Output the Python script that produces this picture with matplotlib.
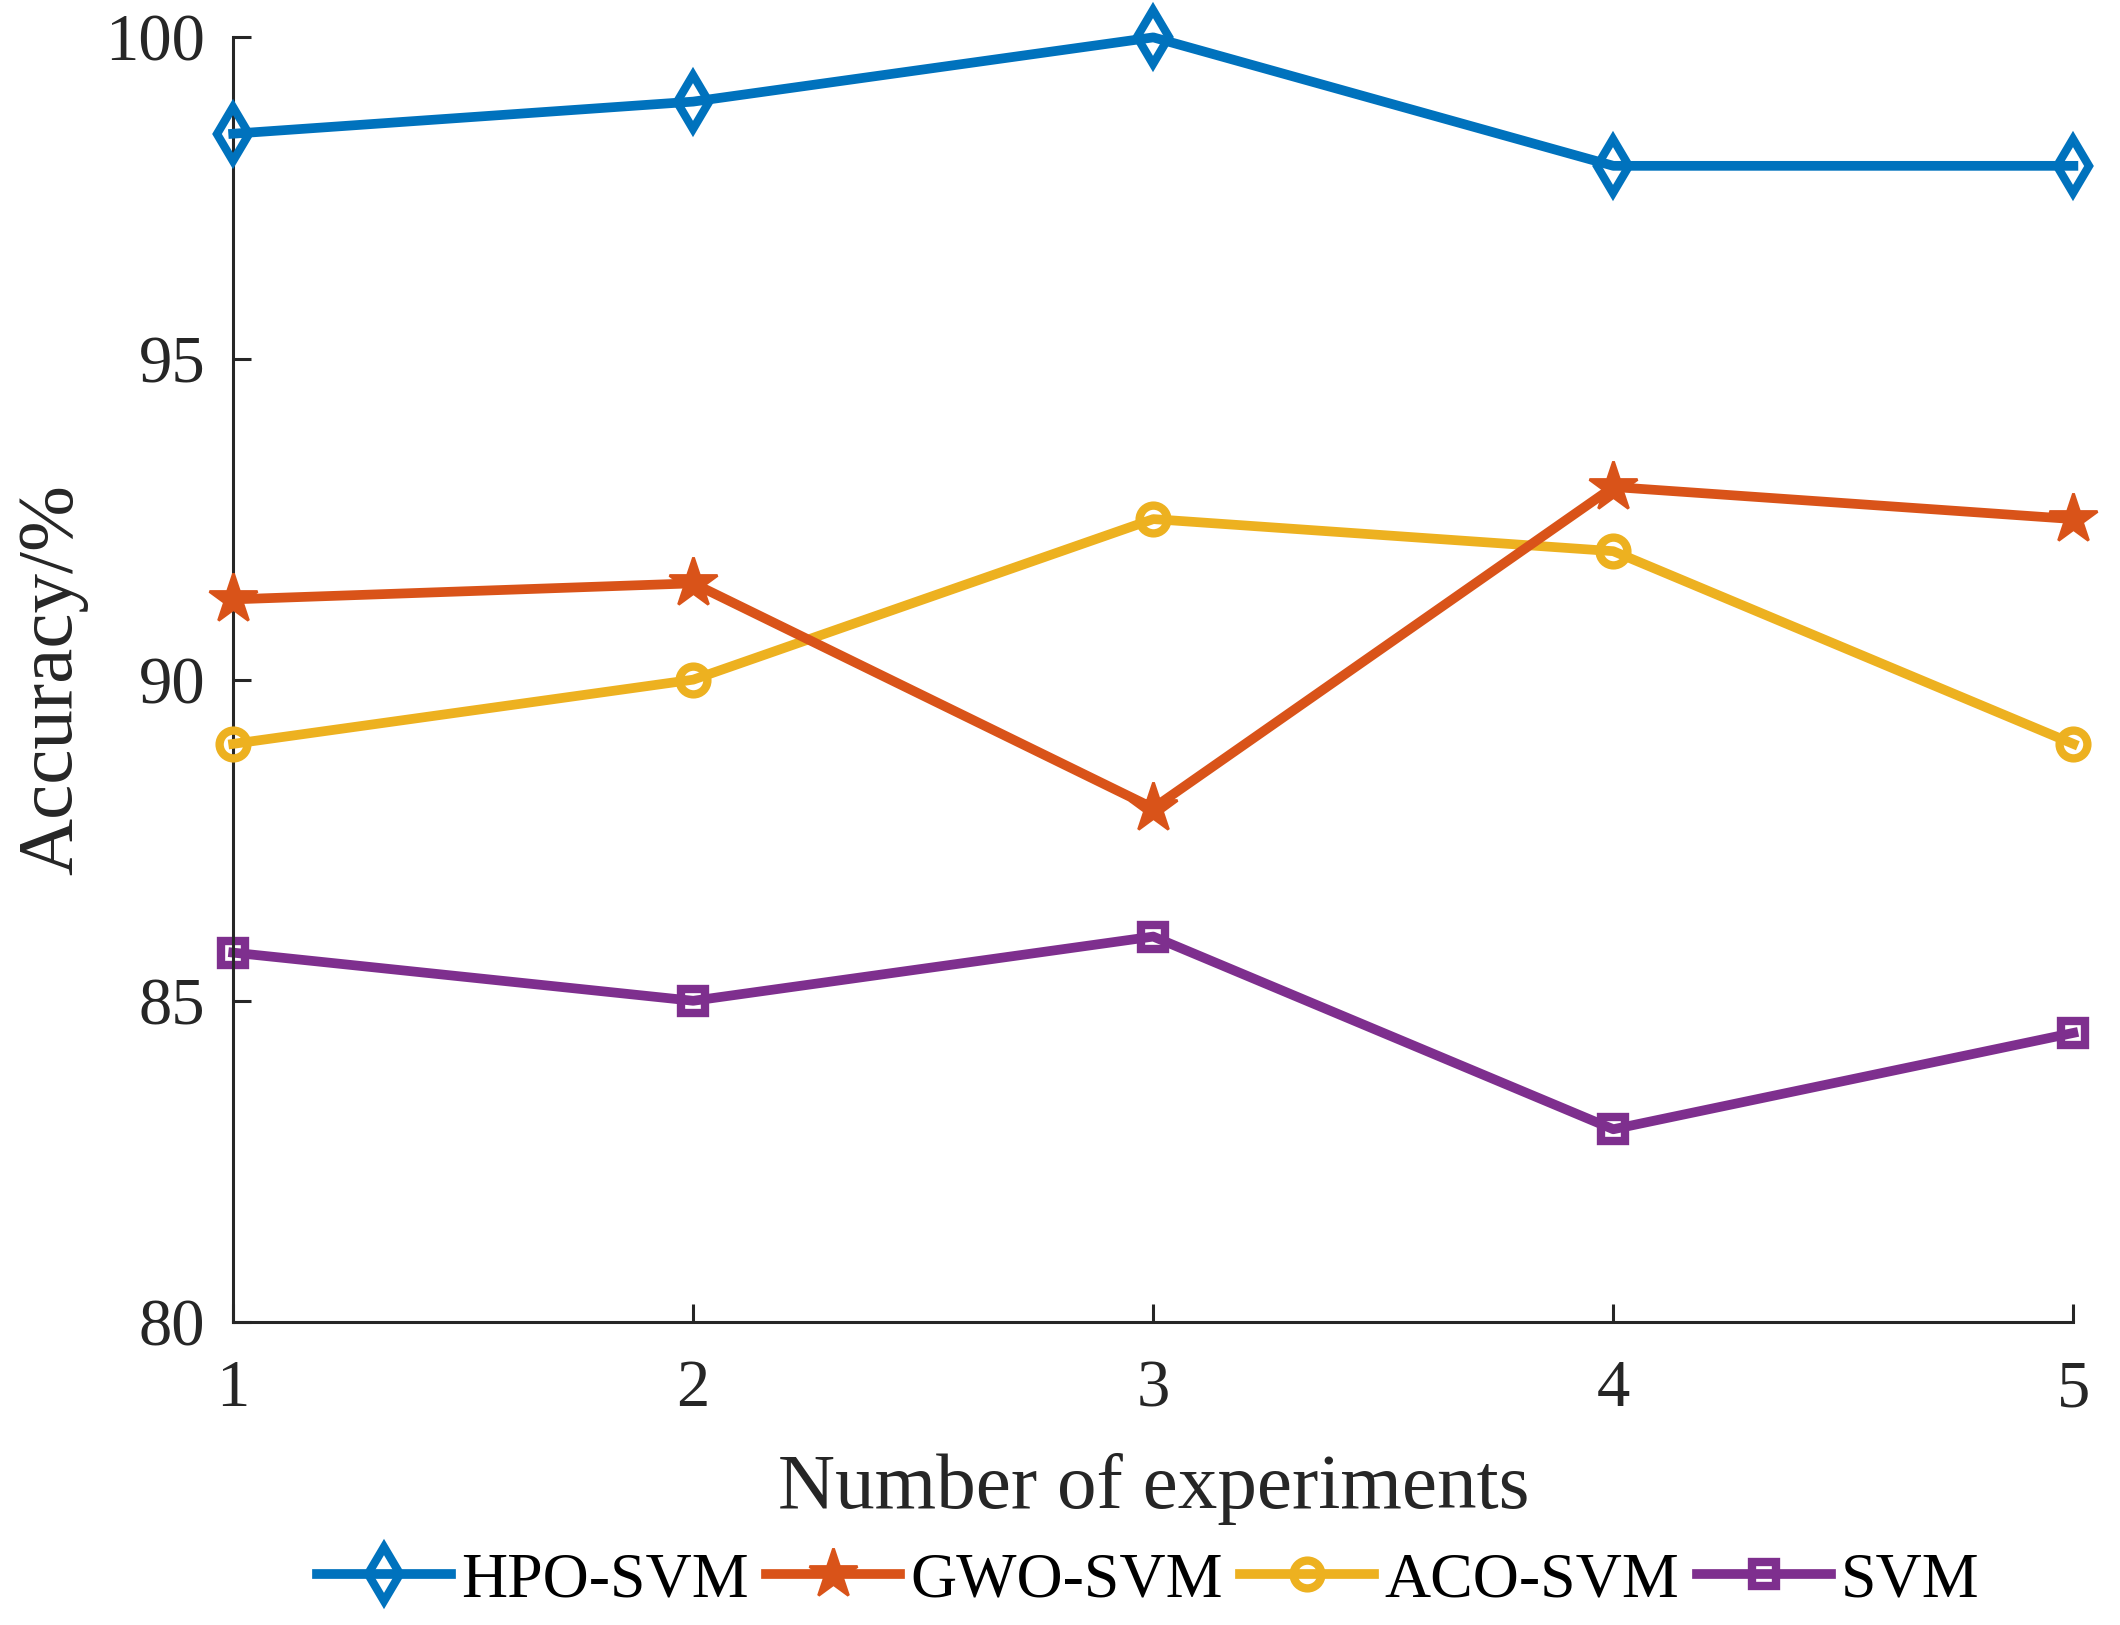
import matplotlib
matplotlib.use("Agg")
import matplotlib.pyplot as plt

# Werte
versuche = [1, 2, 3, 4, 5]
hpo_svm = [98.5, 99.0, 100.0, 98.0, 98.0]
gwo_svm = [91.25, 91.5, 88.0, 93.0, 92.5]
aco_svm = [89.0, 90.0, 92.5, 92.0, 89.0]
svm = [85.75, 85.0, 86.0, 83.0, 84.5]
y_ticks = [80, 85, 90, 95, 100]

plt.rcParams["font.family"] = ["Liberation Serif", "DejaVu Serif"]

textfarbe = "#262626"

fig = plt.figure(figsize=(21.2, 16.25), dpi=100)
ax = fig.add_axes([0.110, 0.1865, 0.868, 0.7905])

lw = 7
mew = 6
ax.plot(versuche, hpo_svm, color="#0072BD", lw=lw, marker="d", ms=27,
        mfc="none", mew=mew, label="HPO-SVM", clip_on=False, zorder=5)
ax.plot(versuche, gwo_svm, color="#D95319", lw=lw, marker="*", ms=37,
        mfc="#D95319", mew=2, label="GWO-SVM", clip_on=False, zorder=4)
ax.plot(versuche, aco_svm, color="#EDB120", lw=lw, marker="o", ms=20,
        mfc="none", mew=mew, label="ACO-SVM", clip_on=False, zorder=3)
ax.plot(versuche, svm, color="#7E2F8E", lw=lw, marker="s", ms=17,
        mfc="none", mew=mew, label="SVM", clip_on=False, zorder=2)

ax.set_xlim(1, 5)
ax.set_ylim(80, 100)
ax.set_xticks(versuche)
ax.set_yticks(y_ticks)

for s in ["top", "right"]:
    ax.spines[s].set_visible(False)
for s in ["left", "bottom"]:
    ax.spines[s].set_linewidth(2.2)
    ax.spines[s].set_color(textfarbe)

ax.tick_params(axis="both", direction="in", length=13, width=2.2,
               colors=textfarbe, labelsize=48)
ax.tick_params(axis="x", pad=27)
ax.tick_params(axis="y", pad=20)

ax.set_xlabel("Number of experiments", fontsize=57, color=textfarbe, va="center")
ax.set_ylabel("Accuracy/%", fontsize=57, color=textfarbe, va="center")
ax.xaxis.set_label_coords(0.5, -0.13)
ax.yaxis.set_label_coords(-0.098, 0.5)

fig.legend(loc="center", bbox_to_anchor=(0.5415, 0.027), ncol=4, frameon=False,
           fontsize=46, handlelength=2.1, handletextpad=0.15,
           columnspacing=0.28, labelcolor="black")

fig.savefig("out.png", dpi=100, facecolor="white")
